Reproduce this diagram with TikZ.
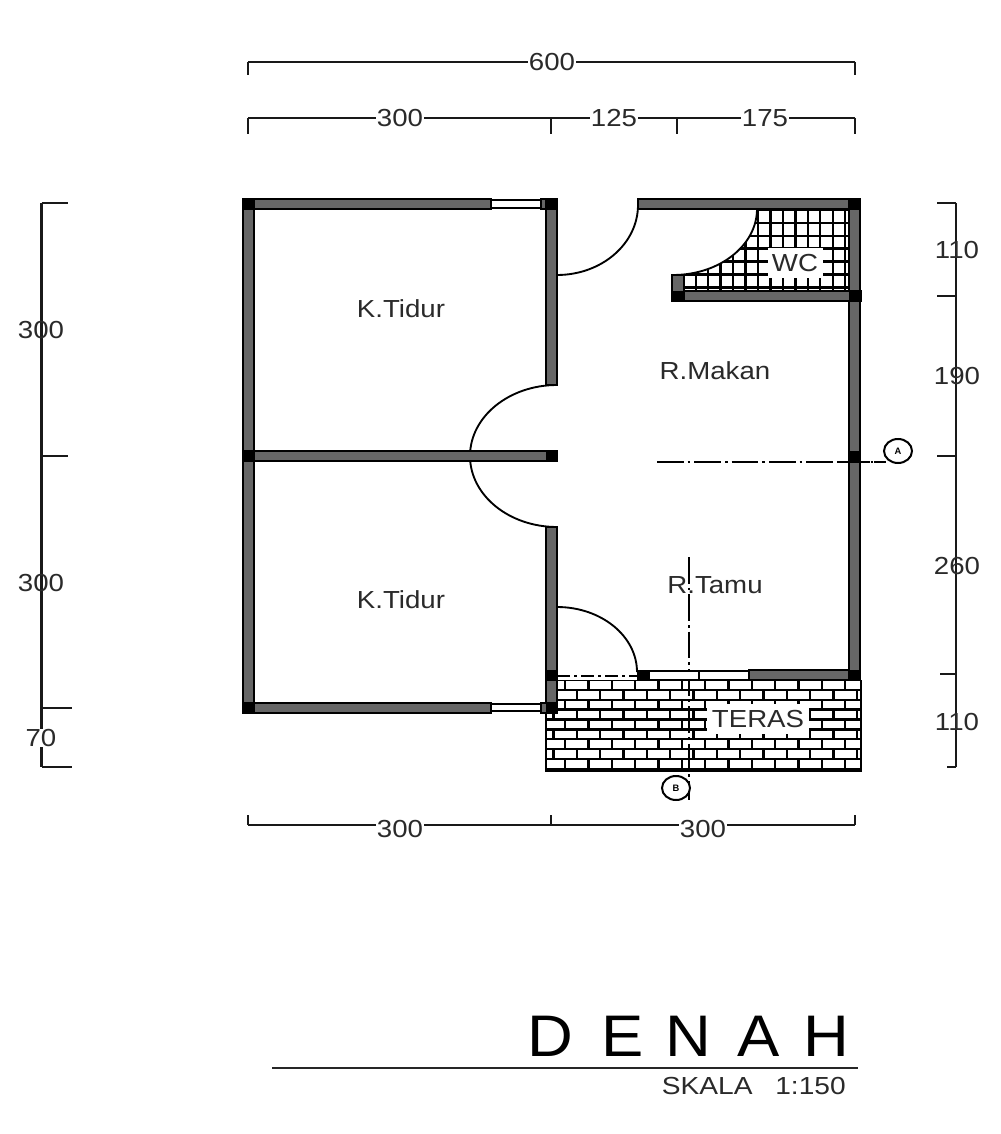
\documentclass[tikz,border=0pt]{standalone}
\usepackage{fontspec}
\setmainfont{Liberation Sans}
\usetikzlibrary{shapes.geometric}
\definecolor{wallgray}{HTML}{666666}
\definecolor{inkgray}{HTML}{2A2A2A}
\tikzset{
  wallbox/.style={draw=black,fill=wallgray,line width=1.3pt},
  corner/.style={draw=black,fill=black,line width=0.4pt},
  winbox/.style={draw=black,fill=white,line width=1.3pt},
  doorarc/.style={draw=black,line width=1.4pt},
  hatch/.style={draw=black,line width=1.8pt},
  dimline/.style={draw=black!90,line width=1.6pt},
  tick/.style={draw=black!90,line width=1.8pt},
  label/.style={font=\fontsize{18.5}{20}\selectfont,text=inkgray,xscale=1.12,inner sep=0.6pt},
  dimlabel/.style={label,fill=white},
  hatchlabel/.style={label,fill=white,inner xsep=3pt,inner ysep=4.5pt},
  section/.style={draw=black,line width=1.1pt,dash pattern=on 20pt off 3pt on 2pt off 3pt},
  marker/.style={ellipse,draw=black,line width=1.5pt,fill=white,minimum width=21pt,minimum height=18pt,inner sep=0pt,font=\fontsize{7}{7}\selectfont\bfseries}
}
\begin{document}
\begin{tikzpicture}[x=0.75pt,y=-0.75pt]
\useasboundingbox (0,0) rectangle (1000,1134);
\fill[white] (0,0) rectangle (1000,1134);

% ---- WC tiles
\begin{scope}
\clip (673,275) arc[start angle=90,end angle=0,x radius=84,y radius=66] -- (849,209) -- (849,291) -- (673,291) -- cycle;
\foreach \i in {0,...,14} \draw[hatch] ({683.3+\i*12.45},205) -- ++(0,90);
\foreach \j in {0,...,7} \draw[hatch] (670,{210+\j*12.9}) -- ++(185,0);
\end{scope}

% ---- Terrace bricks
\begin{scope}
\clip (546,680) rectangle (861,771);
\foreach \j in {0,...,9} \draw[hatch] (540,{680+\j*9.87}) -- ++(330,0);
\foreach \j in {0,2,4,6,8}
  \foreach \i in {0,...,13}
    \draw[hatch] ({565+\i*23.35},{680+\j*9.87}) -- ++(0,9.87);
\foreach \j in {1,3,5,7}
  \foreach \i in {-1,...,13}
    \draw[hatch] ({576.7+\i*23.35},{680+\j*9.87}) -- ++(0,9.87);
\end{scope}
\draw[draw=black,line width=1.6pt] (546,680) -- (546,771) -- (861,771) -- (861,680);

% ---- Section lines
\coordinate (secAstart) at (657,462);
\coordinate (secAend) at (886,462);
\coordinate (secBstart) at (689,557);
\coordinate (secBend) at (689,800);
\draw[section] (secAstart) -- (secAend);
\draw[section] (secBstart) -- (secBend);
\draw[section,dash pattern=on 10pt off 3pt on 2pt off 3pt] (557,676) -- (638,676);

% ---- Doors
\draw[doorarc] (557,275) arc[start angle=90,end angle=0,x radius=81,y radius=70];
\draw[doorarc] (673,275) arc[start angle=90,end angle=0,x radius=84,y radius=66];
\draw[doorarc] (557,385) arc[start angle=270,end angle=90,x radius=87,y radius=71];
\draw[doorarc] (557,607) arc[start angle=270,end angle=360,x radius=80,y radius=65];

% ---- Walls
\draw[wallbox] (243,199) rectangle (491,209);
\draw[winbox] (491,200) rectangle (541,208);
\draw[wallbox] (541,199) rectangle (557,209);
\draw[wallbox] (243,199) rectangle (254,713);
\draw[wallbox] (546,199) rectangle (557,385);
\draw[wallbox] (546,527) rectangle (557,713);
\draw[wallbox] (243,451) rectangle (557,461);
\draw[wallbox] (243,703) rectangle (491,713);
\draw[winbox] (491,704) rectangle (541,711);
\draw[wallbox] (541,703) rectangle (557,713);
\draw[wallbox] (638,199) rectangle (860,209);
\draw[wallbox] (849,199) rectangle (860,680);
\draw[wallbox] (672,291) rectangle (861,301);
\draw[wallbox] (672,275) rectangle (684,301);
\draw[winbox] (649,671) rectangle (699,680);
\draw[winbox] (699,671) rectangle (749,680);
\draw[wallbox] (749,670) rectangle (849,680);

% ---- Black column marks
\foreach \a/\b in {243/199,546/199,849/199,243/451,546/451,849/451,243/703,546/703,546/670,637/670,849/670,849/291,672/291}
  \fill[corner] (\a,\b) rectangle ++(11,10);

% ---- Section line over the wall
\draw[section] (840,462) -- (secAend);

% ---- Dimension lines
\coordinate (t1) at (248,62); \coordinate (t2) at (855,62);
\coordinate (u1) at (248,118); \coordinate (u2) at (551,118);
\coordinate (u3) at (677,118); \coordinate (u4) at (855,118);
\coordinate (b1) at (248,825); \coordinate (b2) at (551,825); \coordinate (b3) at (855,825);
\draw[dimline] (t1) -- (t2);
\draw[tick] (t1) -- ++(0,13);
\draw[tick] (t2) -- ++(0,13);
\draw[dimline] (u1) -- (u4);
\foreach \c in {u1,u2,u3,u4} \draw[tick] (\c) -- ++(0,16);
\draw[dimline] (b1) -- (b3);
\foreach \c in {b1,b2,b3} \draw[tick] (\c) -- ++(0,-10);

\coordinate (l1) at (41.5,203); \coordinate (l2) at (41.5,456);
\coordinate (l3) at (41.5,708); \coordinate (l4) at (41.5,767);
\draw[dimline] (l1) -- (l4);
\draw[tick] (l1) -- ++(26,0);
\draw[tick] (l2) -- ++(26,0);
\draw[tick] (l3) -- ++(30,0);
\draw[tick] (l4) -- ++(30,0);

\coordinate (r1) at (956,203); \coordinate (r2) at (956,296);
\coordinate (r3) at (956,456); \coordinate (r4) at (956,674);
\coordinate (r5) at (956,767);
\draw[dimline] (r1) -- (r5);
\draw[tick] (r1) -- ++(-19,0);
\draw[tick] (r2) -- ++(-19,0);
\draw[tick] (r3) -- ++(-19,0);
\draw[tick] (r4) -- ++(-16,0);
\draw[tick] (r5) -- ++(-9,0);

% ---- Dimension labels
\node[dimlabel] (d600) at (552,62) {600};
\node[dimlabel] (d300a) at (400,118) {300};
\node[dimlabel] (d125) at (614,118) {125};
\node[dimlabel] (d175) at (765,118) {175};
\node[dimlabel] (d300b) at (400,829) {300};
\node[dimlabel] (d300c) at (703,829) {300};
\node[label] (dl300a) at (41,330) {300};
\node[label] (dl300b) at (41,583) {300};
\node[dimlabel,inner ysep=0pt] (dl70) at (41,738) {70};
\node[label] (dr110a) at (957,250) {110};
\node[label] (dr190) at (957,376) {190};
\node[label] (dr260) at (957,566) {260};
\node[label] (dr110b) at (957,722) {110};

% ---- Room labels
\node[label] (kt1) at (401,309) {K.Tidur};
\node[label] (kt2) at (401,600) {K.Tidur};
\node[label] (rmakan) at (715,371) {R.Makan};
\node[label] (rtamu) at (715,585) {R.Tamu};
\node[hatchlabel] (wc) at (795,263) {WC};
\node[hatchlabel] (teras) at (758,719) {TERAS};

% ---- Section markers
\node[marker] (mA) at (898,451) {A};
\node[marker] (mB) at (676,788) {B};

% ---- Title
\node[anchor=west,inner sep=0pt,font=\fontsize{44}{46}\selectfont,text=black,xscale=1.08] (denah) at (527,1036) {D\hspace{20pt}E\hspace{15pt}N\hspace{18pt}A\hspace{16.5pt}H};
\coordinate (ru1) at (272,1068); \coordinate (ru2) at (858,1068);
\draw[draw=black!85,line width=1.5pt] (ru1) -- (ru2);
\node[anchor=east,inner sep=0pt,font=\fontsize{18.5}{20}\selectfont,text=inkgray,xscale=1.14] (skala) at (846,1086) {SKALA\hspace{15pt}1:150};
\end{tikzpicture}
\end{document}
